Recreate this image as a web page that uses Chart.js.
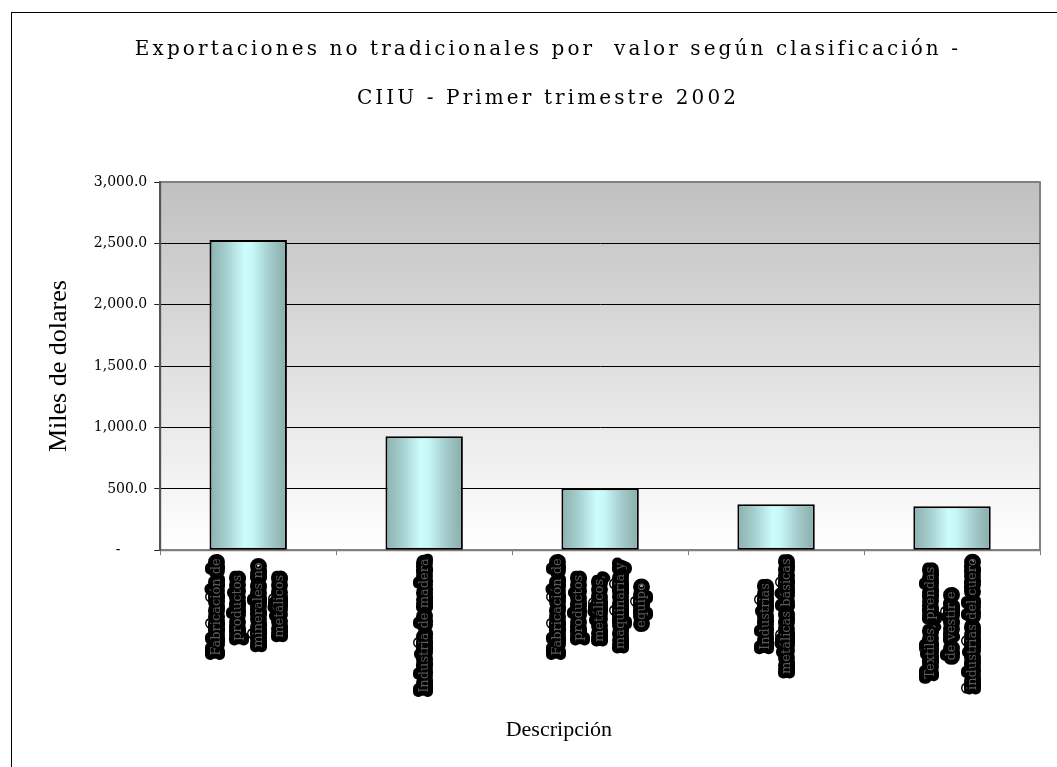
<!DOCTYPE html>
<html>
<head>
<meta charset="utf-8">
<script src="https://cdn.jsdelivr.net/npm/chart.js@4"></script>
<style>
html, body { margin: 0; padding: 0; background: #fff; overflow: hidden; }
#marco { position: absolute; left: 11px; top: 12px; width: 1200px; height: 900px; border: 1px solid #000; }
#grafico { position: absolute; left: 0; top: 0; }
</style>
</head>
<body>
<div id="marco"></div>
<canvas id="grafico" width="1097" height="767"></canvas>
<script>
// datos (miles de dolares)
const categorias = [
    ['Fabricación de', 'productos', 'minerales no', 'metálicos'],
    ['Industria de madera'],
    ['Fabricación de', 'productos', 'metálicos,', 'maquinaria y', 'equipo'],
    ['Industrias', 'metálicas básicas'],
    ['Textiles, prendas', 'de vestir e', 'industrias del cuero']
];
const valores = [2527, 929, 505, 375, 359];
const yTicks = [0, 500, 1000, 1500, 2000, 2500, 3000];
const yTickLabels = ['-      ', '500.0', '1,000.0', '1,500.0', '2,000.0', '2,500.0', '3,000.0'];
const titulo = ['Exportaciones no tradicionales por  valor según clasificación -', 'CIIU - Primer trimestre 2002'];
const tituloX = 'Descripción';
const tituloY = 'Miles de dolares';

const fuenteEtiquetas = '13px "DejaVu Serif"';
const medidor = document.createElement('canvas').getContext('2d');

// etiquetas giradas: lineas centradas y separadas por lineas vacias
function armarEtiqueta(lineas) {
    medidor.font = fuenteEtiquetas;
    const anchos = lineas.map(l => medidor.measureText(l).width);
    const maximo = Math.max(...anchos);
    const espacio = medidor.measureText(' ').width;
    const salida = [];
    for (let i = 0; i < 5 - lineas.length; i++) salida.push('');
    lineas.forEach((l, j) => {
        if (j > 0) salida.push('');
        salida.push(l + ' '.repeat(Math.round((maximo - anchos[j]) / 2 / espacio)));
    });
    return salida;
}

// desplaza el titulo del eje x a la izquierda como en el original
function correrTexto(texto, fuente, px) {
    medidor.font = fuente;
    return texto + ' '.repeat(Math.round(px / medidor.measureText(' ').width));
}

const fondoPlot = {
    id: 'fondoPlot',
    beforeDraw(chart) {
        const { ctx, chartArea: a } = chart;
        if (!a) return;
        const g = ctx.createLinearGradient(0, a.top, 0, a.bottom);
        g.addColorStop(0, '#c0c0c0');
        g.addColorStop(1, '#ffffff');
        ctx.save();
        ctx.fillStyle = g;
        ctx.fillRect(a.left, a.top, a.right - a.left, a.bottom - a.top);
        ctx.strokeStyle = '#808080';
        ctx.lineWidth = 2;
        ctx.strokeRect(a.left, a.top, a.right - a.left, a.bottom - a.top);
        ctx.restore();
        ctx.lineJoin = 'round';
    }
};

function colorBarra(c) {
    const chart = c.chart;
    const xs = chart.scales.x;
    if (!xs || c.dataIndex === undefined) return '#b8e6e6';
    const cx = xs.getPixelForValue(c.dataIndex);
    const mitad = xs.width / categorias.length * 0.44 / 2;
    if (!Number.isFinite(cx) || !Number.isFinite(mitad) || mitad <= 0) return '#b8e6e6';
    const g = chart.ctx.createLinearGradient(cx - mitad, 0, cx + mitad, 0);
    g.addColorStop(0, '#8cb0b0');
    g.addColorStop(0.2, '#a3cccc');
    g.addColorStop(0.45, '#ccfcfc');
    g.addColorStop(0.55, '#c8f8f8');
    g.addColorStop(0.8, '#a0c8c8');
    g.addColorStop(1, '#88acac');
    return g;
}

const grafico = new Chart(document.getElementById('grafico').getContext('2d'), {
    type: 'bar',
    data: {
        labels: categorias.map(armarEtiqueta),
        datasets: [{
            data: valores,
            backgroundColor: colorBarra,
            borderColor: '#000',
            borderWidth: 2,
            borderSkipped: false,
            barPercentage: 0.44,
            categoryPercentage: 1
        }]
    },
    options: {
        responsive: false,
        animation: false,
        layout: { padding: { left: 56, right: 57, top: 10, bottom: 10 } },
        plugins: {
            legend: { display: false },
            tooltip: { enabled: false },
            title: {
                display: true,
                text: titulo,
                color: '#000',
                font: { family: '"DejaVu Serif"', size: 20, weight: 'normal', lineHeight: '49px' },
                padding: { top: 15, bottom: 59 }
            }
        },
        scales: {
            x: {
                grid: { drawOnChartArea: false, color: '#808080', tickLength: 5 },
                border: { color: '#808080', width: 2 },
                ticks: {
                    minRotation: 90,
                    maxRotation: 90,
                    autoSkip: false,
                    padding: 3,
                    labelOffset: -42,
                    color: '#5a5a5a',
                    textStrokeColor: '#000',
                    textStrokeWidth: 10,
                    font: { family: '"DejaVu Serif"', size: 13, lineHeight: '10.5px' }
                },
                title: {
                    display: true,
                    text: correrTexto(tituloX, '22px "Liberation Serif"', 80),
                    color: '#000',
                    font: { family: '"Liberation Serif"', size: 22 },
                    padding: { top: 21, bottom: 13.8 }
                }
            },
            y: {
                min: 0,
                max: 3000,
                afterBuildTicks: scale => { scale.ticks = yTicks.map(v => ({ value: v })); },
                grid: {
                    color: c => (c.tick && c.tick.value === 3000) ? 'rgba(0,0,0,0)' : '#000',
                    tickColor: '#222',
                    tickLength: 6
                },
                border: { color: '#555', width: 2 },
                ticks: {
                    color: '#000',
                    padding: 7,
                    font: { family: '"DejaVu Serif"', size: 14 },
                    callback: (v, i) => yTickLabels[i]
                },
                title: {
                    display: true,
                    text: tituloY,
                    color: '#000',
                    font: { family: '"Liberation Serif"', size: 26 },
                    padding: { top: -12.6, bottom: 12.2 }
                }
            }
        }
    },
    plugins: [fondoPlot]
});

// el titulo del original tiene letras espaciadas
const bloque = grafico.titleBlock;
const dibujarTitulo = bloque.draw.bind(bloque);
bloque.draw = function (area) {
    const ctx = grafico.ctx;
    ctx.save();
    ctx.letterSpacing = '3.1px';
    dibujarTitulo(area);
    ctx.restore();
};
grafico.draw();
</script>
</body>
</html>
